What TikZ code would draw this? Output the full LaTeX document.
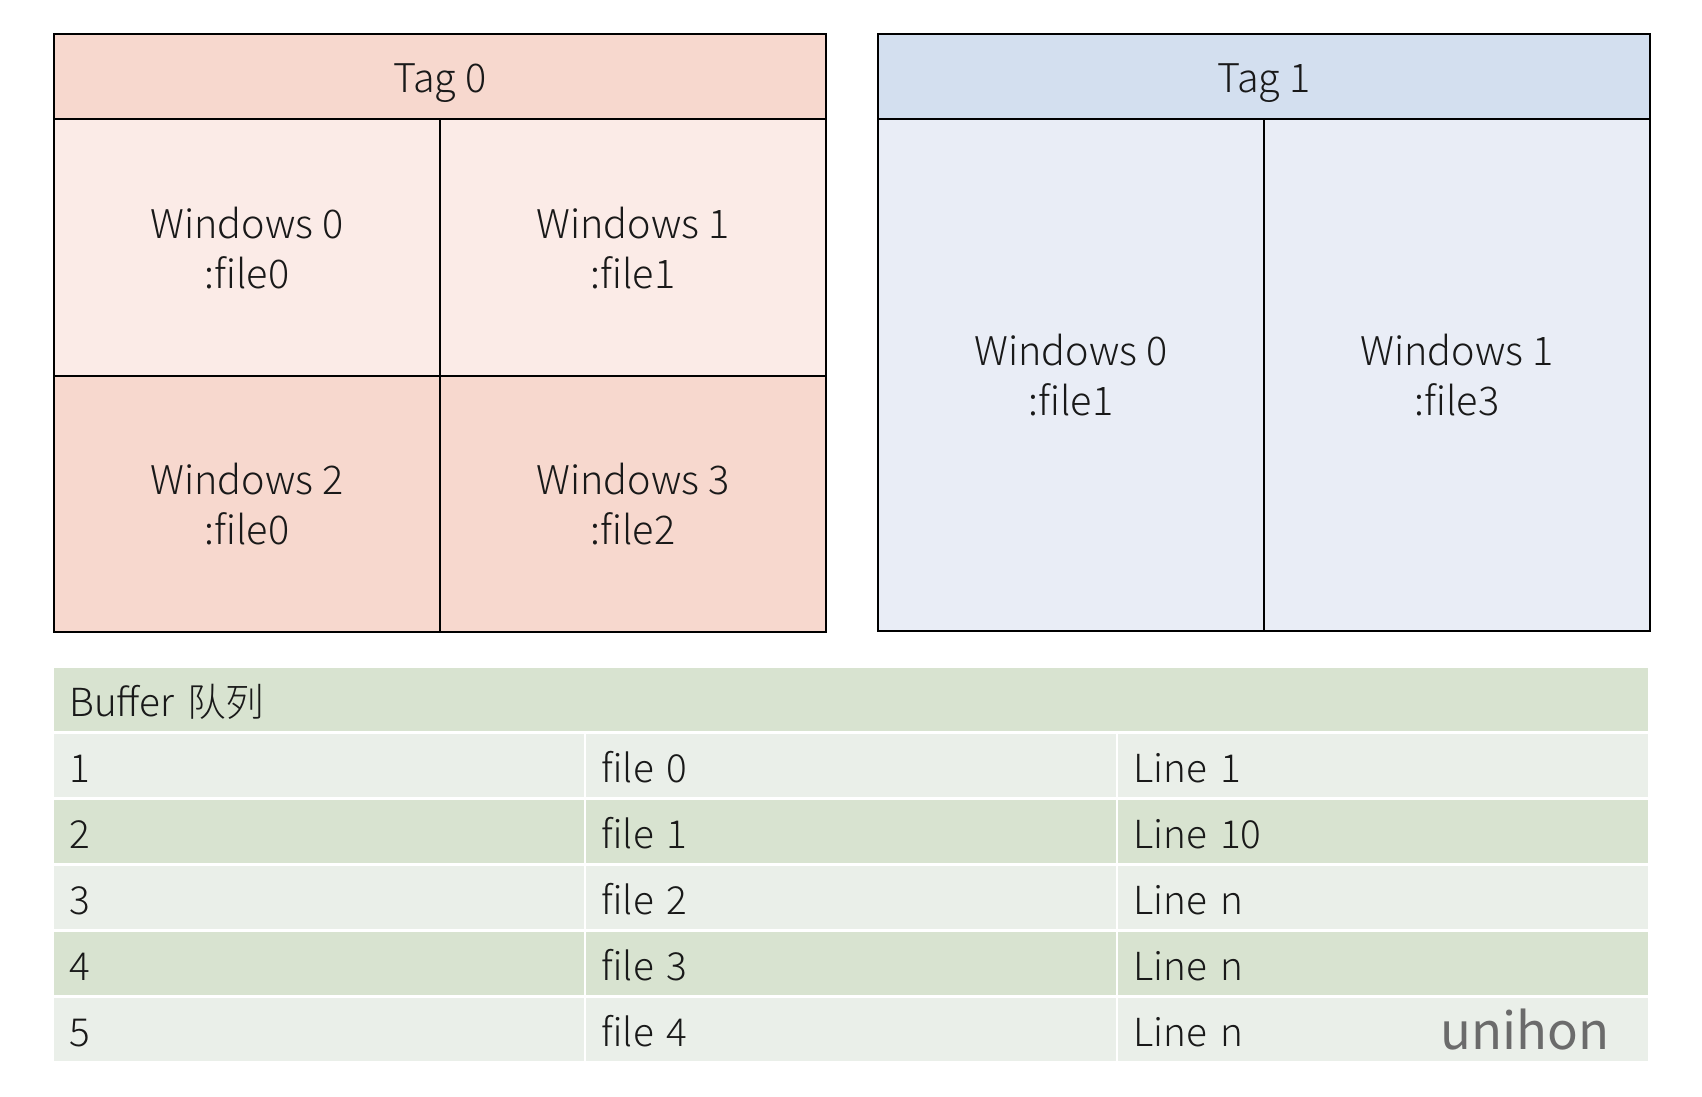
\documentclass[tikz,border=0pt]{standalone}
\usepackage{fontspec}
\setmainfont{Noto Sans CJK SC}[UprightFont=* Light]
\newfontfamily\markefont{Noto Sans CJK SC}

\definecolor{rotdunkel}{RGB}{247,216,206}
\definecolor{rothell}{RGB}{251,235,231}
\definecolor{blaudunkel}{RGB}{211,223,239}
\definecolor{blauhell}{RGB}{233,237,246}
\definecolor{gruendunkel}{RGB}{216,227,208}
\definecolor{gruenhell}{RGB}{234,239,233}

\begin{document}
\begin{tikzpicture}[x=0.02cm, y=-0.02cm]
  \useasboundingbox (0,0) rectangle (1702,1096);

  \tikzstyle{kasten}=[draw=black, line width=1.1pt, anchor=north west, inner sep=0pt, align=center, text=black!90, font=\fontsize{22.5pt}{28.5pt}\selectfont]
  \tikzstyle{kopf}=[kasten, minimum width=15.44cm, minimum height=1.71cm, text height=18pt, text depth=0pt]
  \tikzstyle{fenster}=[kasten, minimum width=7.72cm, minimum height=5.13cm]
  \tikzstyle{hoch}=[kasten, minimum width=7.72cm, minimum height=10.23cm]
  \tikzstyle{feld}=[anchor=north west, inner xsep=0.3cm, inner ysep=0pt, minimum height=1.26cm, text width=10cm, text height=18.4pt, text depth=0pt, align=left, text=black!90, font=\fontsize{22pt}{26pt}\selectfont]

  % Tag 0.
  \node[kopf, fill=rotdunkel] (tag0) at (53,33) {Tag 0};
  \node[fenster, fill=rothell] (t0w0) at (53,118.5) {Windows 0\\:file0};
  \node[fenster, fill=rothell] (t0w1) at (439,118.5) {Windows 1\\:file1};
  \node[fenster, fill=rotdunkel] (t0w2) at (53,375) {Windows 2\\:file0};
  \node[fenster, fill=rotdunkel] (t0w3) at (439,375) {Windows 3\\:file2};

  % Tag 1.
  \node[kopf, fill=blaudunkel] (tag1) at (877,33) {Tag 1};
  \node[hoch, fill=blauhell] (t1w0) at (877,118.5) {Windows 0\\:file1};
  \node[hoch, fill=blauhell] (t1w1) at (1263,118.5) {Windows 1\\:file3};

  % Buffer.
  \node[feld, fill=gruendunkel, text width=31.28cm] (buf) at (54,668) {Buffer 队列};

  \node[feld, fill=gruenhell] (n1) at (54,734) {1};
  \node[feld, fill=gruenhell] (f1) at (586,734) {file 0};
  \node[feld, fill=gruenhell] (l1) at (1118,734) {Line 1};

  \node[feld, fill=gruendunkel] (n2) at (54,800) {2};
  \node[feld, fill=gruendunkel] (f2) at (586,800) {file 1};
  \node[feld, fill=gruendunkel] (l2) at (1118,800) {Line 10};

  \node[feld, fill=gruenhell] (n3) at (54,866) {3};
  \node[feld, fill=gruenhell] (f3) at (586,866) {file 2};
  \node[feld, fill=gruenhell] (l3) at (1118,866) {Line n};

  \node[feld, fill=gruendunkel] (n4) at (54,932) {4};
  \node[feld, fill=gruendunkel] (f4) at (586,932) {file 3};
  \node[feld, fill=gruendunkel] (l4) at (1118,932) {Line n};

  \node[feld, fill=gruenhell] (n5) at (54,998) {5};
  \node[feld, fill=gruenhell] (f5) at (586,998) {file 4};
  \node[feld, fill=gruenhell] (l5) at (1118,998) {Line n};

  % Wasserzeichen.
  \node[text=black!58, font=\markefont\fontsize{29pt}{29pt}\selectfont] (marke) at (1525,1030) {unihon};
\end{tikzpicture}
\end{document}
